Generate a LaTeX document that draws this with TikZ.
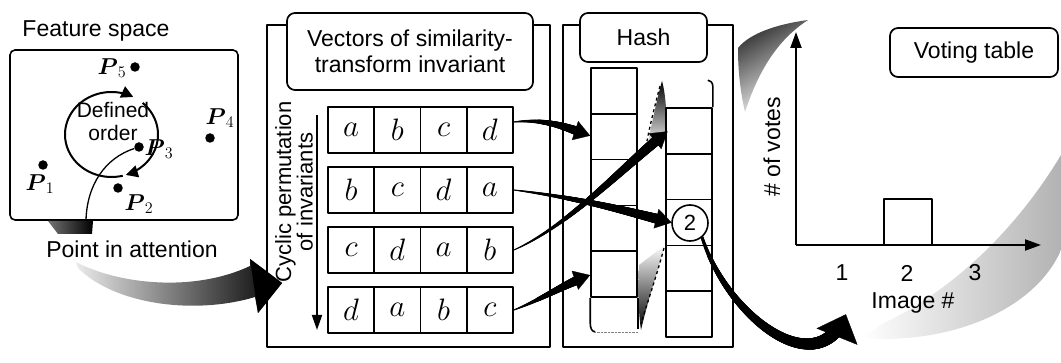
\RequirePackage{fix-cm}
\documentclass[tikz,border=0pt]{standalone}
\usepackage{amsmath}
\usepackage[no-math]{fontspec}
\setmainfont{Liberation Sans}
\usetikzlibrary{arrows.meta,decorations.markings}
\tikzset{
  taper/.style n args={5}{postaction={decorate,decoration={markings,
    mark=between positions 0 and -#3 step 0.35pt with {%
      \pgfmathsetmacro\tprad{#1+(#2-#1)*\pgfkeysvalueof{/pgf/decoration/mark info/distance from start}/\pgfdecoratedpathlength}%
      \fill[black] (0,0) circle[radius=\tprad pt];},
    mark=at position -3pt with {\arrow[line width=0.3pt]{Triangle[length=#4,width=#5]}}}}},
}
\begin{document}
\begin{tikzpicture}[x=1pt,y=-1pt,line join=round,
  lbl/.style={font=\fontsize{23}{26}\selectfont, inner sep=0pt},
  panel/.style={draw, line width=1.6pt, inner sep=0pt},
  titlebox/.style={draw, line width=1.7pt, rounded corners=8pt, fill=white, inner sep=0pt, align=center, font=\fontsize{23}{26}\selectfont},
  cell/.style={draw, line width=1.8pt, minimum width=46.25pt, minimum height=46pt, inner sep=0pt, font=\fontsize{31}{31}\selectfont},
  hcell/.style={draw, line width=1.6pt, minimum width=46pt, minimum height=45.8pt, inner sep=0pt},
  pdot/.style={circle, fill=black, inner sep=0pt, minimum size=9.5pt},
  plbl/.style={inner sep=0pt, font=\fontsize{23}{26}\selectfont},
  tarrow/.style={taper={0.5}{5.5}{16pt}{16pt}{20pt}},
  bigarrow/.style={taper={1.5}{7}{24pt}{24pt}{44pt}},
  axisline/.style={line width=2pt, -{Triangle[length=16pt,width=11pt]}},
  loopline/.style={line width=2pt, -{Triangle[length=12pt,width=12pt]}},
]
\useasboundingbox (0,0) rectangle (1061,363);

% ---------- background shadings (voting panel) ----------
\shade[top color=black!80, bottom color=white, shading angle=30]
  (738,48) .. controls (750,33) and (778,24) .. (808,20)
  .. controls (785,35) and (762,60) .. (745,112)
  .. controls (740,90) and (738,70) .. (738,48) -- cycle;
\shade[left color=white, right color=black!30]
  (1061,155) .. controls (1025,215) and (965,285) .. (880,325) -- (862,338)
  .. controls (950,345) and (1035,310) .. (1061,250) -- cycle;

% ---------- Panel 1: feature space ----------
\node[lbl] (fstitle) at (96,31) {Feature space};
\node[panel, rounded corners=5pt, minimum width=228pt, minimum height=170pt] (fs) at (124,135) {};
\node[pdot] (p5) at (135,67) {};
\node[pdot] (p4) at (210,138) {};
\node[pdot] (p3) at (139,147) {};
\node[pdot] (p1) at (43,165) {};
\node[pdot] (p2) at (118,188) {};
\node[plbl] (l5) at (112,68) {$\boldsymbol{P}_5$};
\node[plbl] (l4) at (220,118) {$\boldsymbol{P}_4$};
\node[plbl] (l3) at (159,149) {$\boldsymbol{P}_3$};
\node[plbl] (l1) at (40,184) {$\boldsymbol{P}_1$};
\node[plbl] (l2) at (139,204) {$\boldsymbol{P}_2$};
\node[align=center, inner sep=0pt, font=\fontsize{21}{23}\selectfont] (order) at (113,121) {Defined\\order};
\draw[loopline] plot[domain=76:298, samples=60, smooth] ({111.5+46.5*cos(\x)},{134.5+42.5*sin(\x)});
\draw[loopline] plot[domain=312:432, samples=50, smooth] ({111.5+46.5*cos(\x)},{134.5+42.5*sin(\x)});
\coordinate (pin) at (86,220);
\draw[line width=1.3pt] (p3) .. controls (105,158) and (87,185) .. (pin);
\shade[left color=black!55, right color=black] (48,221) -- (93,221) -- (92,234) -- (58,234) -- cycle;
\node[lbl] (attn) at (132,249) {Point in attention};
% big gradient arrow into panel 2
\shade[left color=black!8, right color=black]
  (76,262) .. controls (120,285) and (195,292) .. (250,266) -- (250,259) -- (282,283)
  -- (258,313) -- (255,297) .. controls (195,315) and (115,305) .. (78,268) -- cycle;
\fill[black] (250,259) -- (282,283) -- (258,313) -- cycle;

% ---------- Panel 2: vectors ----------
\node[panel, minimum width=283pt, minimum height=322pt] (vp) at (408.5,186) {};
\node[titlebox, minimum width=246pt, minimum height=77pt] (vt) at (410,51.5) {Vectors of similarity-\\transform invariant};
\foreach \r/\lst in {1/{a,b,c,d},2/{b,c,d,a},3/{c,d,a,b},4/{d,a,b,c}}{
  \foreach \l [count=\c] in \lst {
    \node[cell] (r\r-\c) at ({328+46.25*(\c-0.5)},{130+60*(\r-1)}) {$\l$};
  }
}
\node[align=center, rotate=90, inner sep=0pt, font=\fontsize{22}{19}\selectfont] (cyc) at (294,192) {Cyclic permutation\\of invariants};
\coordinate (cyctop) at (317,115);
\coordinate (cycbot) at (317,330);
\draw[line width=1.8pt, -{Triangle[length=15pt,width=10pt]}] (cyctop) -- (cycbot);

% ---------- Panel 3: hash ----------
\node[panel, minimum width=170pt, minimum height=322pt] (hp) at (648,186) {};
\node[titlebox, minimum width=127pt, minimum height=49pt] (ht) at (643.5,37.5) {Hash};
% twisted band shading
\shade[top color=black, bottom color=black!10]
  (662,81) .. controls (666,95) and (667,118) .. (667,142) -- (648,142)
  .. controls (653,118) and (658,95) .. (662,81) -- cycle;
\shade[top color=white, bottom color=black]
  (665,245) .. controls (658,270) and (648,300) .. (641,330)
  .. controls (638,310) and (638,285) .. (639,265) -- cycle;
\draw[line width=1.3pt, dashed] (660,86) .. controls (655,105) and (650,125) .. (647,141);
\draw[line width=1.3pt, dashed] (664,248) .. controls (657,275) and (648,300) .. (641,324);
\foreach \i in {1,...,5}{
  \node[hcell] (L\i) at (614,{68+45.8*(\i-0.5)}) {};
  \node[hcell] (R\i) at (689,{108+45.8*(\i-0.5)}) {};
}
\draw[line width=1.6pt] (L5.south west) -- ++(0,25) .. controls +(0,6) and +(-3,0) .. ++(5,9);
\draw[line width=1.6pt] (L5.south east) -- ++(0,31);
\draw[densely dotted, gray] ([shift={(5,34)}]L5.south west) -- ([yshift=-34pt]L5.south east);
\draw[line width=1.6pt] (R1.north east) -- ++(0,-21) .. controls +(0,-4) and +(2,0) .. ++(-5,-6);
\node[circle, draw, line width=1.6pt, fill=white, minimum size=36pt, inner sep=0pt, font=\fontsize{22}{22}\selectfont] (two) at (690,223) {2};

% connectors vectors -> hash
\path[tarrow] ([yshift=8pt]r1-4.east) .. controls (550,118) and (572,130) .. ([xshift=3pt]L2.west);
\path[tarrow] (r3-4.east) .. controls (570,225) and (625,165) .. ([xshift=3pt]R1.west);
\path[tarrow] (r2-4.east) .. controls (580,198) and (630,212) .. ([xshift=2pt]two.west);
\path[tarrow] (r4-4.east) .. controls (545,298) and (568,282) .. ([xshift=3pt]L5.west);

% ---------- Panel 4: voting table ----------
\node[titlebox, minimum width=168pt, minimum height=49pt] (vot) at (974,52.5) {Voting table};
\coordinate (orig) at (796,245);
\coordinate (ytip) at (796,32);
\coordinate (xtip) at (1041,245);
\node[draw, line width=1.8pt, minimum width=48pt, minimum height=46pt, inner sep=0pt] (bar) at (908,222) {};
\draw[axisline] (orig) -- (ytip);
\draw[axisline] (orig) -- (xtip);
\node[lbl] (t1) at (842,273) {1};
\node[lbl] (t2) at (907,273) {2};
\node[lbl] (t3) at (975,273) {3};
\node[lbl] (imgn) at (913,303) {Image \#};
\node[lbl, rotate=90] (votes) at (772,147) {\# of votes};

% hash -> voting table
\coordinate (vin) at (846,314);
\path[bigarrow] (two.-50) .. controls (728,318) and (818,385) .. (vin);
\end{tikzpicture}
\end{document}
